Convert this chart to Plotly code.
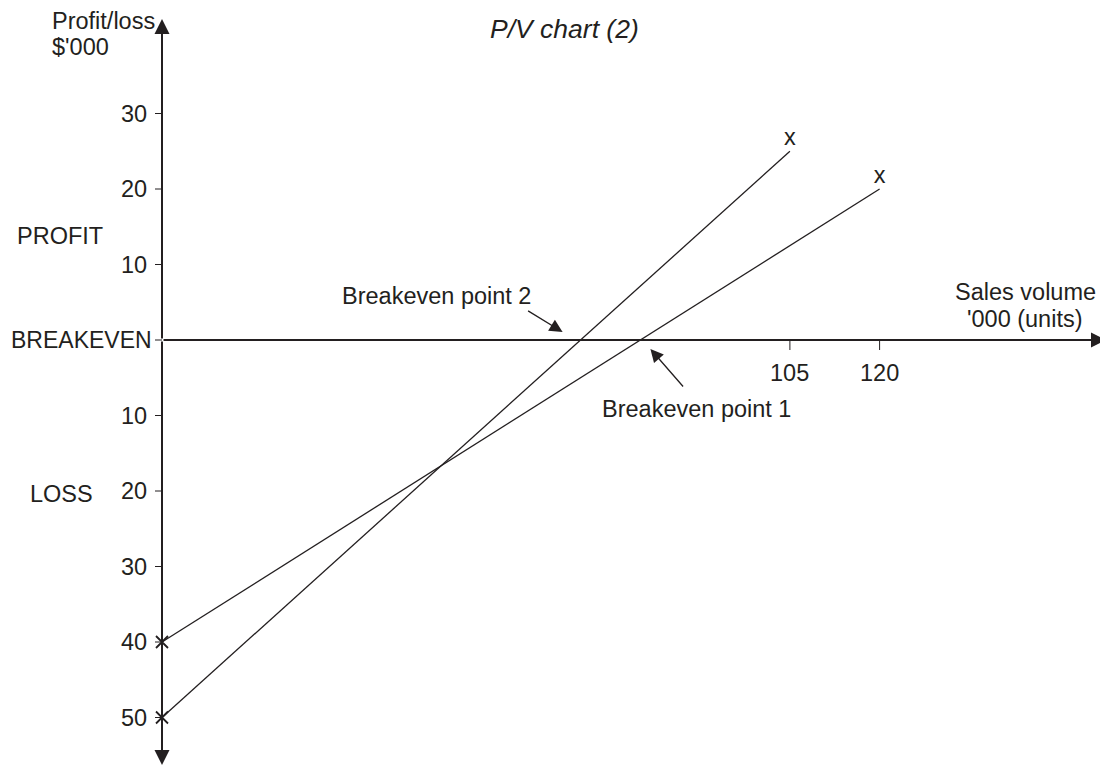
# P/V chart (2) - profit/volume chart with two breakeven points
import plotly.graph_objects as go

# data
line1_x = [0, 120]          # sales volume '000 units
line1_y = [-40, 20]         # profit/loss $'000
line2_x = [0, 105]
line2_y = [-50, 25]
breakeven1 = 80
breakeven2 = 70

y_tickvals = [30, 20, 10, 0, -10, -20, -30, -40, -50]
y_ticktext = ['30', '20', '10', 'BREAKEVEN', '10', '20', '30', '40', '50']
x_tickvals = [105, 120]
x_ticktext = ['105', '120']

INK = '#231f20'
FONT = 'Liberation Sans, Arial, sans-serif'
FS = 23.5

# page puts the figure 8px in from the top-left corner (body margin)
OFF = 8
W, H = 1108 - OFF, 767 - OFF
# scale: x=0 at 162px, 5.98 px/unit; y=0 at 340px, 7.55 px/unit (page pixels)
XPX, YPX = 5.98, 7.55
X0, Y0 = 162, 340


def dx(px):
    return (px - X0) / XPX


def dy(py):
    return (Y0 - py) / YPX


xr = [dx(OFF), dx(1108)]
yr = [dy(767), dy(OFF)]

fig = go.Figure()

# the two profit lines
fig.add_trace(go.Scatter(x=line1_x, y=line1_y, mode='lines',
                         line=dict(color=INK, width=1.3), showlegend=False))
fig.add_trace(go.Scatter(x=line2_x, y=line2_y, mode='lines',
                         line=dict(color=INK, width=1.3), showlegend=False))

# crosses at the start (on the axis)
fig.add_trace(go.Scatter(x=[line1_x[0], line2_x[0]], y=[line1_y[0], line2_y[0]],
                         mode='markers',
                         marker=dict(symbol='x-thin', size=12, line=dict(color=INK, width=1.8)),
                         showlegend=False))
# "x" at the ends
fig.add_trace(go.Scatter(x=[line1_x[1], line2_x[1]], y=[line1_y[1], line2_y[1]],
                         mode='text', text=['x', 'x'], textposition='top center',
                         textfont=dict(family=FONT, size=FS, color=INK),
                         showlegend=False))


def arrow(x, y, ax, ay, size=1.5, width=2, ref='x'):
    d = dict(x=x, y=y, ax=ax, ay=ay, xref='x', yref='y', showarrow=True, arrowhead=2,
             arrowsize=size, arrowwidth=width, arrowcolor=INK, text='', standoff=0)
    if ref == 'x':
        d.update(axref='x', ayref='y')
    return d


def label(x, y, t, xanchor='center', size=FS):
    return dict(x=x, y=y, xref='x', yref='y', text=t, showarrow=False, borderpad=0,
                xanchor=xanchor, yanchor='middle', font=dict(family=FONT, size=size, color=INK))


ann = []
# axes with arrowheads
ann.append(arrow(0, dy(19), 0, 0))
ann.append(arrow(0, dy(765), 0, 0))
ann.append(arrow(dx(1106), 0, 0, 0))

shapes = []
# y tick labels + small ticks
for v, t in zip(y_tickvals, y_ticktext):
    if v == 0:
        ann.append(label(dx(153), v, t, xanchor='right', size=23))
    else:
        ann.append(label(dx(148), v, t, xanchor='right'))
    shapes.append(dict(type='line', xref='x', yref='y', x0=dx(155), x1=0, y0=v, y1=v,
                       line=dict(color=INK, width=1)))

# x tick labels + ticks
for v, t in zip(x_tickvals, x_ticktext):
    shapes.append(dict(type='line', xref='x', yref='y', x0=v, x1=v, y0=0, y1=dy(350),
                       line=dict(color=INK, width=1)))
    ann.append(label(v, dy(373), t))

# titles and side labels
ann.append(label(dx(564), dy(29), '<i>P/V chart (2)</i>', size=26.5))
ann.append(label(dx(51), dy(21), 'Profit/loss', xanchor='left'))
ann.append(label(dx(51), dy(47), "$'000", xanchor='left'))
ann.append(label(dx(60), dy(236), 'PROFIT'))
ann.append(label(dx(61), dy(494), 'LOSS'))
ann.append(label(dx(1025), dy(292), 'Sales volume'))
ann.append(label(dx(1025), dy(319), "'000 (units)"))

# breakeven pointers
ann.append(arrow(breakeven2 - 18 / XPX, 8 / YPX, -36, -22, size=2, width=1.3, ref='px'))
ann.append(label(dx(436), dy(296), 'Breakeven point 2'))
ann.append(arrow(breakeven1 + 10 / XPX, -9 / YPX, 34, 39, size=2, width=1.3, ref='px'))
ann.append(label(dx(696), dy(409), 'Breakeven point 1'))

fig.update_layout(
    width=W, height=H,
    margin=dict(l=0, r=0, t=0, b=0),
    paper_bgcolor='white', plot_bgcolor='white',
    xaxis=dict(range=xr, visible=False, fixedrange=True),
    yaxis=dict(range=yr, visible=False, fixedrange=True),
    annotations=ann, shapes=shapes,
)

fig.write_html("out.html")
